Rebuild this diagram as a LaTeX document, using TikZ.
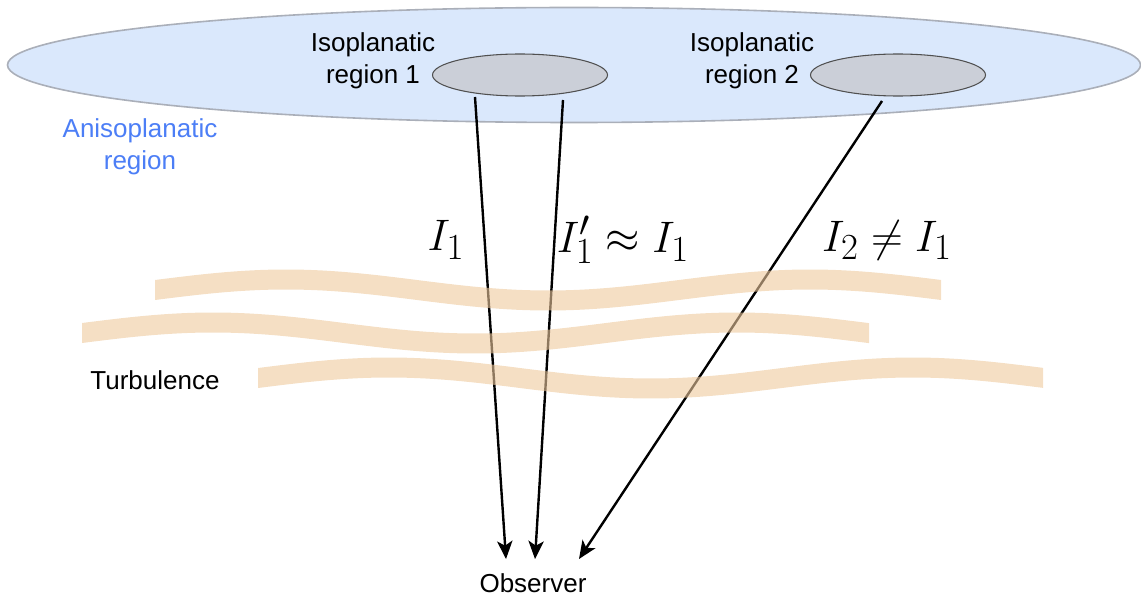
\documentclass[tikz,border=0pt]{standalone}
\usepackage{fontspec}
\setmainfont{Liberation Sans}
\usetikzlibrary{shapes.geometric,arrows.meta}
\definecolor{anisofill}{RGB}{218,232,252}
\definecolor{anisoline}{RGB}{170,175,185}
\definecolor{isofill}{RGB}{203,207,216}
\definecolor{isoline}{RGB}{80,80,80}
\definecolor{anisotext}{RGB}{76,126,246}
\definecolor{wavecol}{RGB}{238,201,157}
\tikzset{
  regionbig/.style={ellipse, draw=anisoline, line width=1.2pt, fill=anisofill, inner sep=0pt, minimum width=849.75pt, minimum height=86.25pt},
  regionsmall/.style={ellipse, draw=isoline, line width=0.8pt, fill=isofill, inner sep=0pt, minimum width=131.25pt, minimum height=31.5pt},
  lbl/.style={font=\fontsize{19.5}{24}\selectfont, align=center, inner sep=0pt},
  mathlbl/.style={font=\fontsize{24.88}{30}\selectfont, inner sep=0pt, scale=1.33, transform shape},
  ray/.style={line width=1.8pt, -{Stealth[length=13.5pt, width=11.5pt, inset=3.5pt]}},
  wave/.style={fill=wavecol, fill opacity=0.6},
}
\newcommand\turbband[3]{%
  \fill[wave] plot[domain=#1:#2, samples=90] (\x, {#3-10.5*sin((\x-#1)/524*360)-10})
    -- plot[domain=#2:#1, samples=90] (\x, {#3-10.5*sin((\x-#1)/524*360)+10}) -- cycle;}
\begin{document}
\begin{tikzpicture}[x=0.75pt, y=-0.75pt]
\useasboundingbox (0,0) rectangle (1141,599);
\node[regionbig] (aniso) at (574,65) {};
\node[regionsmall] (iso1) at (520,75) {};
\node[regionsmall] (iso2) at (898,75) {};
\node[lbl] (l1) at (373,61) {Isoplanatic\\region 1};
\node[lbl] (l2) at (752,61) {Isoplanatic\\region 2};
\node[lbl, text=anisotext] (la) at (140,147) {Anisoplanatic\\region};
\node[lbl] (turb) at (155,380) {Turbulence};
\node[lbl] (obs) at (533,583) {Observer};
\node[mathlbl] (m1) at (446,240) {$I_1$};
\node[mathlbl] (m2) at (623,240) {$I_1'\approx I_1$};
\node[mathlbl] (m3) at (887,240) {$I_2\neq I_1$};
\coordinate (s1) at (475,97);
\coordinate (s2) at (563,100);
\coordinate (s3) at (882,101);
\coordinate (t1) at (506,559);
\coordinate (t2) at (535,559);
\coordinate (t3) at (579,559);
\draw[ray] (s1) -- (t1);
\draw[ray] (s2) -- (t2);
\draw[ray] (s3) -- (t3);
\turbband{155}{941}{290}
\turbband{82}{869}{333}
\turbband{258}{1043}{378}
\end{tikzpicture}
\end{document}
